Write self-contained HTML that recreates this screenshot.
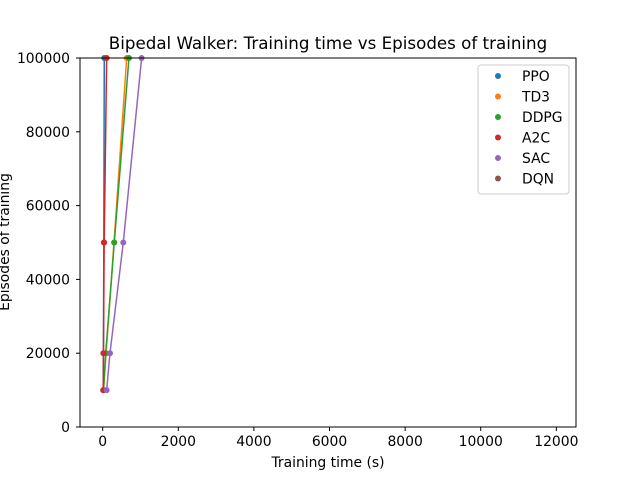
<!DOCTYPE html>
<html><head><meta charset="utf-8"><style>
body{margin:0;background:#fff;font-family:"DejaVu Sans","Liberation Sans",sans-serif}
</style></head><body>
<svg width="640" height="480" xmlns="http://www.w3.org/2000/svg" font-family="DejaVu Sans, Liberation Sans, sans-serif">
<rect width="640" height="480" fill="#fff"/>
<text x="328" y="49" font-size="16.7" text-anchor="middle">Bipedal Walker: Training time vs Episodes of training</text>
<g id="ticks"></g>
<g id="series"></g>
<rect x="80" y="58" width="496" height="369" fill="none" stroke="#000" stroke-width="1"/>
<text x="328" y="467" font-size="13.9" text-anchor="middle">Training time (s)</text>
<text transform="translate(9,242) rotate(-90)" font-size="13.9" text-anchor="middle">Episodes of training</text>
<g id="legend"></g>
</svg>
<script>
const names=["PPO","TD3","DDPG","A2C","SAC","DQN"];
const colors=["#1f77b4","#ff7f0e","#2ca02c","#d62728","#9467bd","#8c564b"];
const episodes=[10000,20000,50000,100000];
const ppoTime=[15,20,30,42];
const td3Time=[25,90,300,635];
const ddpgTime=[20,80,307,695];
const a2cTime=[15,20,40,105];
const sacTime=[105,193,545,1030];
const dqnTime=[];
const xTicks=[0,2000,4000,6000,8000,10000,12000];
const yTicks=[0,20000,40000,60000,80000,100000];
const NS="http://www.w3.org/2000/svg";
const X0=80,X1=576,Y0=427,Y1=58,XMIN=-600,XMAX=12520,YMIN=0,YMAX=100000;
const xs=v=>X0+(v-XMIN)/(XMAX-XMIN)*(X1-X0);
const ys=v=>Y0-(v-YMIN)/(YMAX-YMIN)*(Y0-Y1);
function mk(t,a,p){const e=document.createElementNS(NS,t);for(const k in a)e.setAttribute(k,a[k]);p.appendChild(e);return e;}
const tg=document.getElementById('ticks');
xTicks.forEach(v=>{const x=xs(v);
 const l=mk('line',{x1:x,x2:x,y1:Y0,y2:Y0+4,stroke:'#000'},tg);
 
 
 const t=mk('text',{x:x,y:Y0+19,'font-size':13.9,'text-anchor':'middle'},tg);t.textContent=v;
 
 });
yTicks.forEach(v=>{const y=ys(v);
 const l=mk('line',{x1:X0-4,x2:X0,y1:y,y2:y,stroke:'#000'},tg);
 
 
 const t=mk('text',{x:X0-10,y:y+5,'font-size':13.9,'text-anchor':'end'},tg);t.textContent=v;
 
 });
const sg=document.getElementById('series');
const times=[ppoTime,td3Time,ddpgTime,a2cTime,sacTime,dqnTime];
times.forEach((tm,i)=>{
 if(!tm.length)return;
 const g=mk('g',{},sg);
 
 
 const pts=tm.map((t,j)=>xs(t)+','+ys(episodes[j])).join(' ');
 mk('polyline',{points:pts,fill:'none',stroke:colors[i],'stroke-width':1.5},g);
 tm.forEach((t,j)=>{const c=mk('circle',{cx:xs(t),cy:ys(episodes[j]),r:3,fill:colors[i]},g);
  
  });
});
const lg=document.getElementById('legend');
const box=mk('rect',{x:478,y:65,width:91,height:129,rx:3,fill:'#fff','fill-opacity':0.8,stroke:'#ccc'},lg);


names.forEach((n,i)=>{const y=76+i*20.5;
 const g=mk('g',{},lg);
 
 
 mk('circle',{cx:498,cy:y,r:3,fill:colors[i]},g);
 const t=mk('text',{x:522,y:y+5,'font-size':13.9},g);t.textContent=n;});
</script>
</body></html>
